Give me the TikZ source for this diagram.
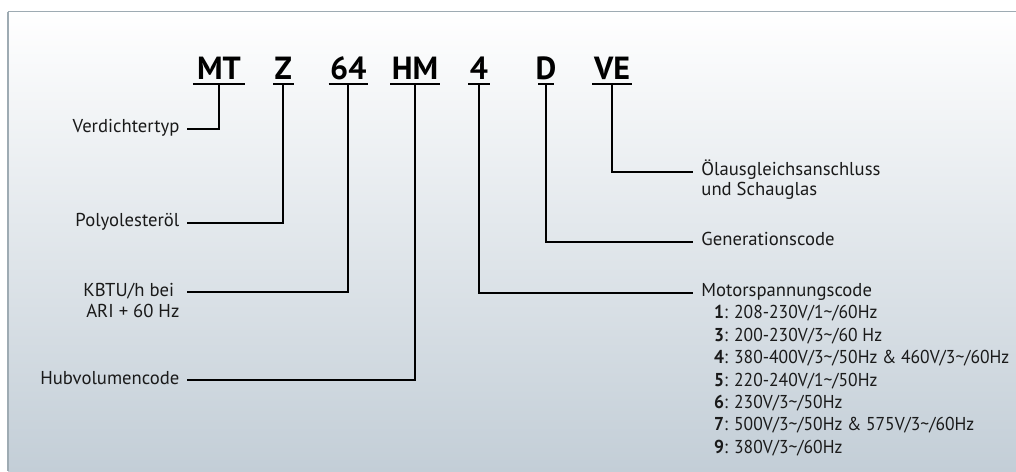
\documentclass[tikz,border=0pt]{standalone}
\usepackage{fontspec}
\setmainfont{PT Sans}
\newfontfamily\narrowfont[FakeStretch=0.94]{PT Sans}
\newcommand{\voltrow}[2]{\hspace*{9.5pt}{\narrowfont\textbf{#1}: #2}}
\definecolor{bgbottom}{HTML}{C3CED7}
\definecolor{bordergray}{HTML}{9EABB3}
\definecolor{txt}{HTML}{1A1A1A}
\begin{document}
\begin{tikzpicture}[x=0.75pt,y=-0.75pt,
  code/.style={font=\fontsize{24}{28}\selectfont\bfseries, anchor=base, inner xsep=1pt, inner ysep=3.2pt, text depth=0pt},
  uline/.style={line width=1.5pt},
  conn/.style={line width=1.5pt, line join=miter},
  llab/.style={text=txt, anchor=base east, inner xsep=5.5pt, inner ysep=0pt},
  rlab/.style={text=txt, anchor=base west, inner xsep=6.5pt, inner ysep=0pt},
  lf/.style={font=\fontsize{14}{16.8}\selectfont},
]
\useasboundingbox (0,0) rectangle (1016,471);
\shade[top color=white, bottom color=bgbottom] (8,11.5) rectangle (1016,471);
\draw[bordergray, line width=1pt] (7.5,11.5) -- (1016,11.5);
\draw[bordergray, line width=1.5pt] (8,471) -- (8,11.5);

% code letters
\node[code, inner xsep=3pt] (cmt) at (219,79) {MT};
\node[code] (cz)  at (283.3,79) {Z};
\node[code] (c64) at (348.3,79) {64};
\node[code] (chm) at (415,79) {HM};
\node[code] (c4)  at (479,79) {4};
\node[code, inner xsep=-2pt] (cd) at (546,79) {D};
\node[code] (cve) at (612,79) {VE};
\foreach \n in {cmt,cz,c64,chm,c4,cd,cve}
  \draw[uline] (\n.south west) -- (\n.south east);

% left labels
\node[llab, lf] (verd) at (187,132.5) {Verdichtertyp};
\node[llab, lf] (poly) at (187,226.7) {Polyolesteröl};
\node[llab, font=\fontsize{14}{15.75}\selectfont] (kbtu) at (187,296.3)
  {\begin{tabular}[t]{@{}r@{}}KBTU/h bei\kern4pt\\ARI + 60 Hz\end{tabular}};
\node[llab, lf] (hub) at (187,384) {Hubvolumencode};

% right labels
\node[rlab, font=\fontsize{14}{15}\selectfont] (oel) at (692.5,175.7)
  {\begin{tabular}[t]{@{}l@{}}Ölausgleichsanschluss\\und Schauglas\end{tabular}};
\node[rlab, lf] (gen) at (692.5,245.7) {Generationscode};
\node[rlab, lf] (mot) at (692.5,296.5)
  {\begin{tabular}[t]{@{}l@{}}Motorspannungscode\\
  \voltrow{1}{208-230V/1\textasciitilde/60Hz}\\
  \voltrow{3}{200-230V/3\textasciitilde/60 Hz}\\
  \voltrow{4}{380-400V/3\textasciitilde/50Hz \& 460V/3\textasciitilde/60Hz}\\
  \voltrow{5}{220-240V/1\textasciitilde/50Hz}\\
  \voltrow{6}{230V/3\textasciitilde/50Hz}\\
  \voltrow{7}{500V/3\textasciitilde/50Hz \& 575V/3\textasciitilde/60Hz}\\
  \voltrow{9}{380V/3\textasciitilde/60Hz}\end{tabular}};

% connectors
\draw[conn] (cmt.south) |- ([yshift=3pt]verd.base east);
\draw[conn] (cz.south)  |- ([yshift=3pt]poly.base east);
\draw[conn] (c64.south) |- ([yshift=3pt]kbtu.base east);
\draw[conn] (chm.south) |- ([yshift=3pt]hub.base east);
\draw[conn] (cve.south) |- ([yshift=3pt]oel.base west);
\draw[conn] (cd.south)  |- ([yshift=3pt]gen.base west);
\draw[conn] (c4.south)  |- ([yshift=3pt]mot.base west);
\end{tikzpicture}
\end{document}
